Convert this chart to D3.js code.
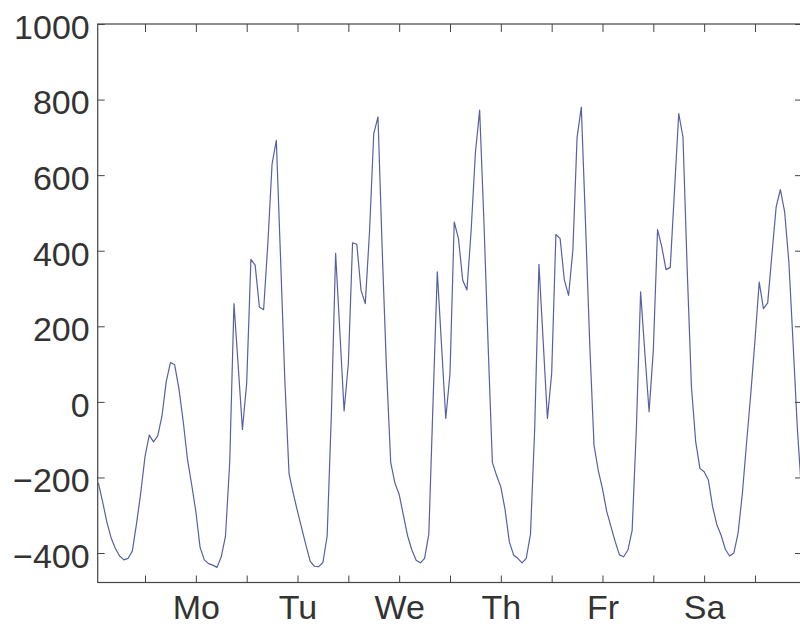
<!DOCTYPE html>
<html>
<head>
<meta charset="utf-8">
<script src="https://cdn.jsdelivr.net/npm/d3@7"></script>
<style>
  body { margin: 0; background: #fff; }
  svg { display: block; }
  .tick text { font-family: "Liberation Sans", Arial, sans-serif; font-size: 34px; fill: #333; }
  .tick line { stroke: #444; stroke-width: 1; }
</style>
</head>
<body>
<svg id="chart" width="800" height="626"></svg>
<script>
// hourly values, starting Sunday afternoon
const sunday = [-215, -265, -318, -360, -388, -408, -418, -414, -395, -322, -240, -145];
const monday = [-88, -106, -90, -38, 53, 104, 98, 35, -50, -150, -218, -290,
                -385, -418, -428, -432, -438, -410, -355, -160, 260, 95, -73, 49];
const tuesday = [377, 362, 251, 244, 420, 630, 692, 380, 60, -190, -242, -290,
                 -335, -380, -422, -435, -436, -425, -355, -30, 393, 185, -24, 101];
const wednesday = [421, 417, 295, 260, 450, 710, 754, 400, 90, -160, -215, -245,
                   -300, -355, -392, -419, -426, -414, -350, 0, 344, 150, -44, 75];
const thursday = [476, 432, 322, 296, 455, 660, 772, 480, 150, -160, -195, -225,
                  -285, -370, -405, -414, -426, -414, -350, -70, 364, 160, -44, 75];
const friday = [443, 432, 322, 282, 400, 700, 780, 470, 150, -115, -181, -230,
                -290, -330, -370, -405, -410, -392, -340, -70, 291, 130, -26, 137];
const saturday = [456, 410, 350, 356, 560, 763, 701, 350, 40, -105, -176, -185,
                  -207, -278, -325, -353, -390, -408, -400, -348, -245, -110, 20, 163];
const sunday2 = [317, 247, 262, 390, 516, 562, 503, 370, 154, -70, -240];

const load = [].concat(sunday, monday, tuesday, wednesday, thursday, friday, saturday, sunday2);

const dayLabels = ["Mo", "Tu", "We", "Th", "Fr", "Sa"];
const yTicks = [-400, -200, 0, 200, 400, 600, 800, 1000];

const LEFT = 97.7, RIGHT = 802, TOP = 24, BOTTOM = 582.5;

const svg = d3.select("#chart");

// scales
const x = d3.scaleLinear().domain([-0.17, 166.1]).range([LEFT, RIGHT]);
const y = d3.scaleLinear().domain([-478, 1000]).range([BOTTOM, TOP]);

// ticks every 12 hours, labels at the middle of each day
const xTicks = d3.range(11, 160, 12);
const xLabel = v => {
  let k = (v - 23) / 24;
  return Number.isInteger(k) && dayLabels[k] ? dayLabels[k] : "";
};
const yFmt = v => v < 0 ? "\u2212" + Math.abs(v) : String(v);

svg.append("defs").append("clipPath").attr("id", "clip")
  .append("rect")
  .attr("x", LEFT).attr("y", TOP)
  .attr("width", RIGHT - LEFT).attr("height", BOTTOM - TOP);

// data line
const line = d3.line()
  .x((d, i) => x(i))
  .y(d => y(d));

svg.append("path")
  .datum(load)
  .attr("clip-path", "url(#clip)")
  .attr("fill", "none")
  .attr("stroke", "#5660a4")
  .attr("stroke-width", 1.2)
  .attr("stroke-linejoin", "round")
  .attr("d", line);

// frame
svg.append("rect")
  .attr("x", LEFT).attr("y", TOP)
  .attr("width", RIGHT - LEFT).attr("height", BOTTOM - TOP)
  .attr("fill", "none")
  .attr("stroke", "#444")
  .attr("stroke-width", 1.2);

// axes, ticks pointing inward
svg.append("g")
  .attr("transform", `translate(0,${BOTTOM})`)
  .call(d3.axisBottom(x).tickValues(xTicks).tickSize(-7).tickPadding(12).tickFormat(xLabel));

svg.append("g")
  .attr("transform", `translate(0,${TOP})`)
  .call(d3.axisTop(x).tickValues(xTicks).tickSize(-8).tickFormat(""));

svg.append("g")
  .attr("transform", `translate(${LEFT},0)`)
  .call(d3.axisLeft(y).tickValues(yTicks).tickSize(-7).tickPadding(8).tickFormat(yFmt))
  .selectAll("text").attr("dy", "0.42em");

svg.append("g")
  .attr("transform", `translate(${RIGHT},0)`)
  .call(d3.axisRight(y).tickValues(yTicks).tickSize(-7).tickFormat(""));

svg.selectAll(".domain").remove();
</script>
</body>
</html>
